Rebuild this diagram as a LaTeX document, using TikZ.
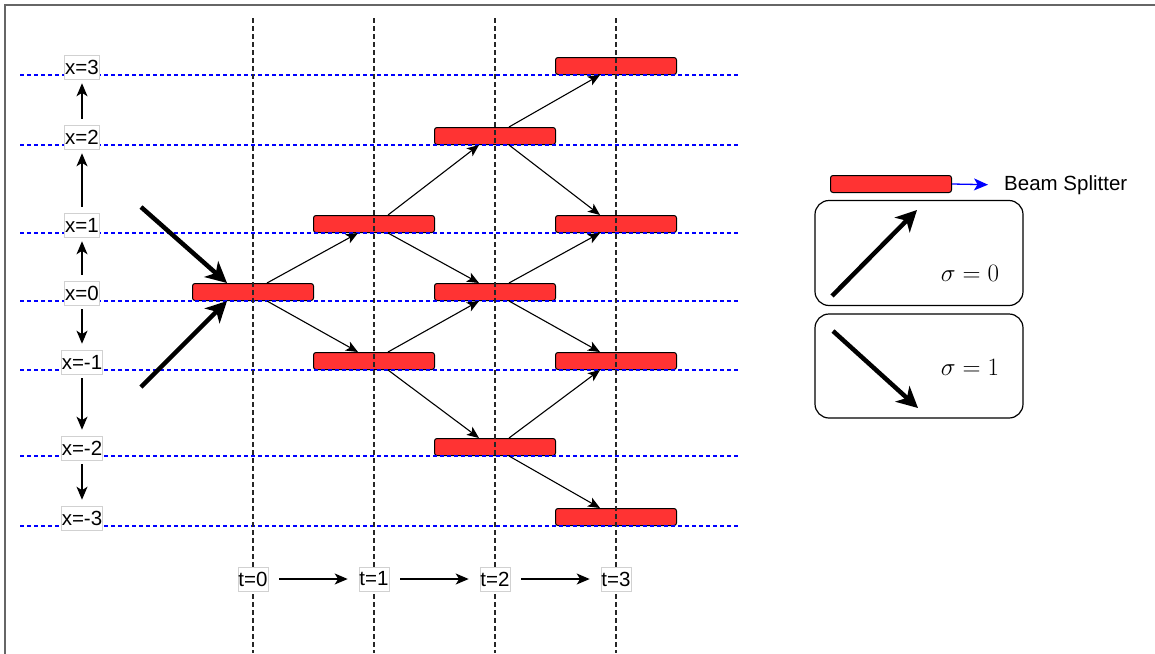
\RequirePackage{fix-cm}
\documentclass[tikz,border=0pt]{standalone}
\usepackage{fontspec}
\setmainfont{Liberation Sans}
\usetikzlibrary{arrows.meta,calc}
\definecolor{bsred}{HTML}{FF3333}
\tikzset{
  bs/.style={draw=black, line width=1pt, fill=bsred, rounded corners=2.5pt, minimum width=121pt, minimum height=17pt, inner sep=0pt, anchor=south},
  hline/.style={blue, dash pattern=on 4pt off 3pt, line width=1.2pt},
  vline/.style={black!85, dash pattern=on 4.5pt off 3.5pt, line width=1.2pt},
  lab/.style={draw=black!18, line width=0.6pt, fill=white, inner xsep=0.5pt, inner ysep=0pt, minimum height=24pt, font=\fontsize{20.5}{24}\selectfont},
  edgearrow/.style={line width=1.1pt, -{Stealth[length=12pt,width=10pt,inset=3pt]}},
  axarrow/.style={line width=1.5pt, -{Stealth[length=13pt,width=11pt,inset=3.5pt]}},
  bigarrow/.style={line width=4.5pt, -{Stealth[length=21pt,width=21pt,inset=6pt]}},
  legbox/.style={draw=black, line width=1.2pt, rounded corners=14pt, minimum width=208pt, inner sep=0pt},
}
\begin{document}
\begin{tikzpicture}[x=1pt,y=-1pt]
\useasboundingbox (0,0) rectangle (1155,653);
\fill[white] (0,0) rectangle (1155,653);
\draw[black!60, line width=1.5pt] (5,660) -- (5,5) -- (1160,5);

% beam splitters
\node[bs] (b00) at (253,301) {};
\node[bs] (b11) at (374,233) {};
\node[bs] (b1m1) at (374,370) {};
\node[bs] (b22) at (495,145) {};
\node[bs] (b20) at (495,301) {};
\node[bs] (b2m2) at (495,456) {};
\node[bs] (b33) at (616,75) {};
\node[bs] (b31) at (616,233) {};
\node[bs] (b3m1) at (616,370) {};
\node[bs] (b3m3) at (616,526) {};

% grid lines
\foreach \yy in {75,145,233,301,370,456,526} {
  \draw[hline] (20,\yy) -- (740,\yy);
}
\foreach \xx in {253,374,495,616} {
  \draw[vline] (\xx,18) -- (\xx,653);
}

% edges
\foreach \s/\u/\d in {b00/b11/b1m1, b11/b22/b20, b1m1/b20/b2m2, b22/b33/b31, b20/b31/b3m1, b2m2/b3m1/b3m3} {
  \draw[edgearrow] ([xshift=14pt]\s.north) -- ([xshift=-16pt]\u.south);
  \draw[edgearrow] ([xshift=14pt]\s.south) -- ([xshift=-16pt]\d.north);
}

% incoming beams
\coordinate (inA) at (141,207);
\coordinate (inB) at (141,387);
\draw[bigarrow] (inA) -- ([xshift=-26pt]b00.north);
\draw[bigarrow] (inB) -- ([xshift=-26pt]b00.south);

% position labels
\node[lab] (lx3) at (82,67) {x=3};
\node[lab] (lx2) at (82,137) {x=2};
\node[lab] (lx1) at (82,225) {x=1};
\node[lab] (lx0) at (82,293) {x=0};
\node[lab] (lxm1) at (82,362) {x=-1};
\node[lab] (lxm2) at (82,448) {x=-2};
\node[lab] (lxm3) at (82,518) {x=-3};
\draw[axarrow, shorten <=6pt, shorten >=4pt] (lx2.north) -- (lx3.south);
\draw[axarrow, shorten <=6pt, shorten >=4pt] (lx1.north) -- (lx2.south);
\draw[axarrow, shorten <=6pt, shorten >=4pt] (lx0.north) -- (lx1.south);
\draw[axarrow, shorten <=4pt, shorten >=6pt] (lx0.south) -- (lxm1.north);
\draw[axarrow, shorten <=4pt, shorten >=6pt] (lxm1.south) -- (lxm2.north);
\draw[axarrow, shorten <=4pt, shorten >=6pt] (lxm2.south) -- (lxm3.north);

% time labels
\node[lab] (t0) at (253,579) {t=0};
\node[lab] (t1) at (374,579) {t=1};
\node[lab] (t2) at (495,579) {t=2};
\node[lab] (t3) at (616,579) {t=3};
\draw[axarrow, shorten <=11pt, shorten >=11pt] (t0.east) -- (t1.west);
\draw[axarrow, shorten <=11pt, shorten >=11pt] (t1.east) -- (t2.west);
\draw[axarrow, shorten <=11pt, shorten >=11pt] (t2.east) -- (t3.west);

% legend
\node[bs, anchor=center] (lbs) at (891,184) {};
\node[inner sep=0pt, anchor=west, font=\fontsize{20.5}{24}\selectfont] (lbl) at (1004,185) {Beam Splitter};
\draw[blue, line width=1.3pt, -{Stealth[length=14pt,width=12pt,inset=3.5pt]}, shorten >=16pt] (lbs.east) -- (lbl.west);

\node[legbox, minimum height=105pt] (k0) at (919,253) {};
\node[legbox, minimum height=104pt] (k1) at (919,366) {};
\coordinate (a0s) at (832,296);
\coordinate (a0e) at (917,210);
\coordinate (a1s) at (833,331);
\coordinate (a1e) at (918,408);
\draw[bigarrow] (a0s) -- (a0e);
\draw[bigarrow] (a1s) -- (a1e);
\node[font=\fontsize{25}{30}\selectfont] (s0) at (970,273) {$\sigma=0$};
\node[font=\fontsize{25}{30}\selectfont] (s1) at (970,367) {$\sigma=1$};
\end{tikzpicture}
\end{document}
